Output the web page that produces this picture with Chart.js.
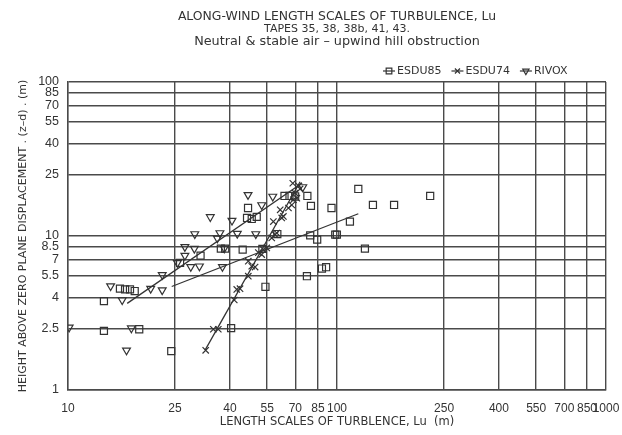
<!DOCTYPE html>
<html>
<head>
<meta charset="utf-8">
<script src="https://cdn.jsdelivr.net/npm/chart.js@4/dist/chart.umd.min.js"></script>
<style>
  html, body { margin: 0; padding: 0; background: #fff; }
  #wrap { width: 622px; height: 435px; position: relative; }
</style>
</head>
<body>
<div id="wrap"><canvas id="graph"></canvas></div>
<script>
const titleLines = [
    'ALONG-WIND LENGTH SCALES OF TURBULENCE, Lu',
    'TAPES 35, 38, 38b, 41, 43.',
    'Neutral & stable air \u2013 upwind hill obstruction'
];
const xTitle = 'LENGTH SCALES OF TURBLENCE, Lu  (m)';
const yTitle = 'HEIGHT ABOVE ZERO PLANE DISPLACEMENT . (z\u2013d) . (m)';

const xTicks = [10, 25, 40, 55, 70, 85, 100, 250, 400, 550, 700, 850, 1000];
const yTicks = [1, 2.5, 4, 5.5, 7, 8.5, 10, 25, 40, 55, 70, 85, 100];

const seriesNames = ['ESDU85', 'ESDU74', 'RIVOX'];

// ESDU85 (squares)
const esdu85X = [13.6, 13.6, 15.6, 16.3, 17.0, 17.7, 18.4, 24.2, 26.1, 31.1,
    37.0, 38.4, 44.6, 46.7, 46.3, 48.2, 50.3, 40.4, 63.8, 66.6,
    69.9, 77.6, 80.0, 95.4, 120, 136, 163, 222, 111.7, 79.5,
    84.4, 98.5, 99.9, 127, 60.0, 87.9, 91.1, 77.3, 54.2, 52.8];
const esdu85Y = [3.78, 2.42, 4.55, 4.50, 4.50, 4.39, 2.48, 1.79, 6.70, 7.46,
    8.28, 8.28, 8.16, 15.2, 13.1, 12.9, 13.3, 2.52, 18.2, 18.2,
    18.05, 18.2, 15.7, 15.2, 20.2, 15.9, 15.9, 18.2, 12.4, 10.1,
    9.47, 10.2, 10.2, 8.28, 10.3, 6.15, 6.27, 5.48, 4.68, 8.25];

// ESDU74 (crosses)
const esdu74X = [32.5, 34.7, 36.2, 41.5, 42.4, 43.6, 46.8, 48.2, 49.6, 46.8,
    51.0, 52.5, 53.2, 54.8, 57.2, 58.9, 59.7, 58.0, 62.3, 63.2,
    61.5, 66.0, 67.9, 68.9, 70.9, 69.9, 72.9, 71.9, 68.5];
const esdu74Y = [1.81, 2.48, 2.48, 3.84, 4.50, 4.55, 5.48, 6.36, 6.28, 6.86,
    7.80, 7.58, 8.16, 8.37, 9.71, 10.2, 10.46, 12.4, 13.1, 13.4,
    14.8, 15.2, 15.9, 17.2, 17.6, 19.0, 20.2, 21.2, 22.0];

// RIVOX (triangles)
const rivoxX = [10.1, 14.4, 15.9, 17.2, 16.5, 20.3, 22.4, 22.4, 27.2, 27.2,
    29.5, 28.6, 30.8, 29.6, 33.8, 36.7, 35.9, 37.5, 40.7, 46.7,
    42.6, 49.9, 38.1, 52.5, 57.7, 74.6, 25.5];
const rivoxY = [2.55, 4.73, 3.84, 2.52, 1.81, 4.55, 4.45, 5.60, 8.50, 7.46,
    8.28, 6.31, 6.36, 10.3, 13.3, 10.46, 9.66, 6.31, 12.6, 18.5,
    10.36, 10.3, 8.32, 15.9, 18.05, 20.8, 6.7];

// fitted lines (end points)
const esdu85FitX = [24.3, 120];
const esdu85FitY = [4.70, 13.95];
const esdu74FitX = [32.3, 72.9];
const esdu74FitY = [1.81, 22.5];
const rivoxFitX = [16.6, 74.2];
const rivoxFitY = [3.65, 22.1];

const ink = '#333';
const gridCol = '#4a4a4a';
const fontFam = '"DejaVu Sans", sans-serif';
const tickFam = '"Liberation Sans", Arial, sans-serif';

function pts(xs, ys) {
    return xs.map((x, i) => ({ x: x, y: ys[i] }));
}

const markerStyles = [
    { pointStyle: 'rect', radius: 5, rotation: 0 },
    { pointStyle: 'crossRot', radius: 4.5, rotation: 0 },
    { pointStyle: 'triangle', radius: 4.5, rotation: 180 }
];

function scatterSet(i, xs, ys) {
    const m = markerStyles[i];
    return {
        label: seriesNames[i],
        data: pts(xs, ys),
        showLine: false,
        pointStyle: m.pointStyle,
        pointRadius: m.radius,
        pointRotation: m.rotation,
        pointBorderColor: ink,
        pointBackgroundColor: 'rgba(0,0,0,0)',
        pointBorderWidth: 1.2,
        borderColor: ink
    };
}

function fitSet(xs, ys) {
    return {
        label: 'fit',
        data: pts(xs, ys),
        showLine: true,
        pointRadius: 0,
        borderColor: '#333',
        borderWidth: 1.3
    };
}

// title block and legend drawn at their places on the sheet
const header = {
    id: 'header',
    afterDraw(chart) {
        const ctx = chart.ctx;
        const a = chart.chartArea;
        const cx = (a.left + a.right) / 2;
        ctx.save();
        ctx.fillStyle = ink;
        ctx.textAlign = 'center';
        ctx.textBaseline = 'middle';
        const ys = [17, 29.5, 41.5];
        const sizes = [12.4, 11, 12.8];
        titleLines.forEach((t, i) => {
            ctx.font = sizes[i] + 'px ' + fontFam;
            ctx.fillText(t, cx, ys[i]);
        });

        // legend:  -□-ESDU85  -×-ESDU74  -▽-RIVOX
        ctx.font = '11px ' + fontFam;
        ctx.textAlign = 'left';
        let x = 383;
        const y = 71;
        seriesNames.forEach((name, i) => {
            ctx.strokeStyle = ink;
            ctx.lineWidth = 1.2;
            ctx.beginPath();
            ctx.moveTo(x, y);
            ctx.lineTo(x + 12, y);
            ctx.stroke();
            const m = markerStyles[i];
            ctx.fillStyle = 'rgba(0,0,0,0)';
            Chart.helpers.drawPoint(ctx, {
                pointStyle: m.pointStyle,
                rotation: m.rotation,
                radius: m.radius * 0.8,
                borderWidth: 1.2
            }, x + 6, y);
            ctx.fillStyle = ink;
            ctx.fillText(name, x + 14, y);
            x += 14 + ctx.measureText(name).width + 10;
        });
        ctx.restore();
    }
};

new Chart(document.getElementById('graph'), {
    type: 'scatter',
    data: {
        datasets: [
            scatterSet(0, esdu85X, esdu85Y),
            scatterSet(1, esdu74X, esdu74Y),
            scatterSet(2, rivoxX, rivoxY),
            fitSet(esdu85FitX, esdu85FitY),
            fitSet(esdu74FitX, esdu74FitY),
            fitSet(rivoxFitX, rivoxFitY)
        ]
    },
    options: {
        responsive: true,
        maintainAspectRatio: false,
        animation: false,
        layout: { padding: { top: 82, left: 12, right: 16, bottom: 0 } },
        plugins: {
            legend: { display: false },
            title: { display: false },
            tooltip: { enabled: false }
        },
        scales: {
            x: {
                type: 'logarithmic',
                min: 10,
                max: 1000,
                afterBuildTicks: s => { s.ticks = xTicks.map(v => ({ value: v })); },
                afterFit: s => {
                    s.height = 45;
                    // end labels may hang past the frame, as on the sheet
                    s.paddingLeft = 0;
                    s.paddingRight = 0;
                },
                ticks: {
                    autoSkip: false,
                    maxRotation: 0,
                    padding: 11,
                    color: ink,
                    font: { family: tickFam, size: 12 },
                    callback: v => String(v)
                },
                grid: { color: gridCol, lineWidth: 1.4, drawTicks: false },
                border: { color: gridCol, width: 1.4 },
                title: {
                    display: true,
                    text: xTitle,
                    color: ink,
                    font: { family: fontFam, size: 11.5 },
                    padding: { top: 0, bottom: 6 }
                }
            },
            y: {
                type: 'logarithmic',
                min: 1,
                max: 100,
                afterBuildTicks: s => { s.ticks = yTicks.map(v => ({ value: v })); },
                afterFit: s => {
                    s.width = 56;
                    s.paddingTop = 0;
                    s.paddingBottom = 0;
                },
                ticks: {
                    autoSkip: false,
                    padding: 9,
                    color: ink,
                    font: { family: tickFam, size: 12.5 },
                    callback: v => String(v)
                },
                grid: { color: gridCol, lineWidth: 1.4, drawTicks: false },
                border: { color: gridCol, width: 1.4 },
                title: {
                    display: true,
                    text: yTitle,
                    color: ink,
                    font: { family: fontFam, size: 11 },
                    padding: { top: 5, bottom: 0 }
                }
            }
        }
    },
    plugins: [header]
});
</script>
</body>
</html>
